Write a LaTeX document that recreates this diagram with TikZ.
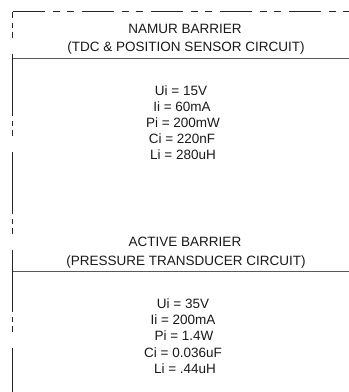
\documentclass[tikz,border=0pt]{standalone}
\usepackage{fontspec}
\setmainfont{Liberation Sans}
\tikzset{
	frame/.style={black!85, line width=0.8pt},
	rule/.style={black!65, line width=0.9pt},
	txt/.style={anchor=base, inner sep=0pt, font=\fontsize{13.5}{16}\selectfont, text=black!90},
}
\begin{document}
\begin{tikzpicture}[x=1pt, y=-1pt]
	\useasboundingbox (0, 0) rectangle (349, 392);
	% Cadre
	\coordinate (corner) at (12.5, 11.5);
	\draw[frame, dash pattern=on 32 off 8 on 7 off 7 on 7 off 8] (corner) -- (349, 11.5);
	\draw[frame, dash pattern=on 62 off 5 on 5 off 4 on 6 off 16, dash phase=56] (corner) -- (12.5, 392);
	\draw[rule] (12.5, 58) -- (349, 58);
	\draw[rule] (12.5, 271) -- (349, 271);
	% NAMUR
	\node[txt] (namur) at (185, 33) {NAMUR BARRIER};
	\node[txt] (tdc) at (186, 51) {(TDC \& POSITION SENSOR CIRCUIT)};
	\node[txt] (nui) at (181, 95) {Ui = 15V};
	\node[txt] (nii) at (182, 111) {Ii = 60mA};
	\node[txt] (npi) at (183, 127) {Pi = 200mW};
	\node[txt] (nci) at (182, 143) {Ci = 220nF};
	\node[txt] (nli) at (183, 159.5) {Li = 280uH};
	% Active
	\node[txt] (active) at (185, 246) {ACTIVE BARRIER};
	\node[txt] (press) at (186, 265) {(PRESSURE TRANSDUCER CIRCUIT)};
	\node[txt] (aui) at (183, 308) {Ui = 35V};
	\node[txt] (aii) at (183, 324) {Ii = 200mA};
	\node[txt] (api) at (184, 340) {Pi = 1.4W};
	\node[txt] (aci) at (183, 357) {Ci = 0.036uF};
	\node[txt] (ali) at (185, 373) {Li = .44uH};
\end{tikzpicture}
\end{document}
